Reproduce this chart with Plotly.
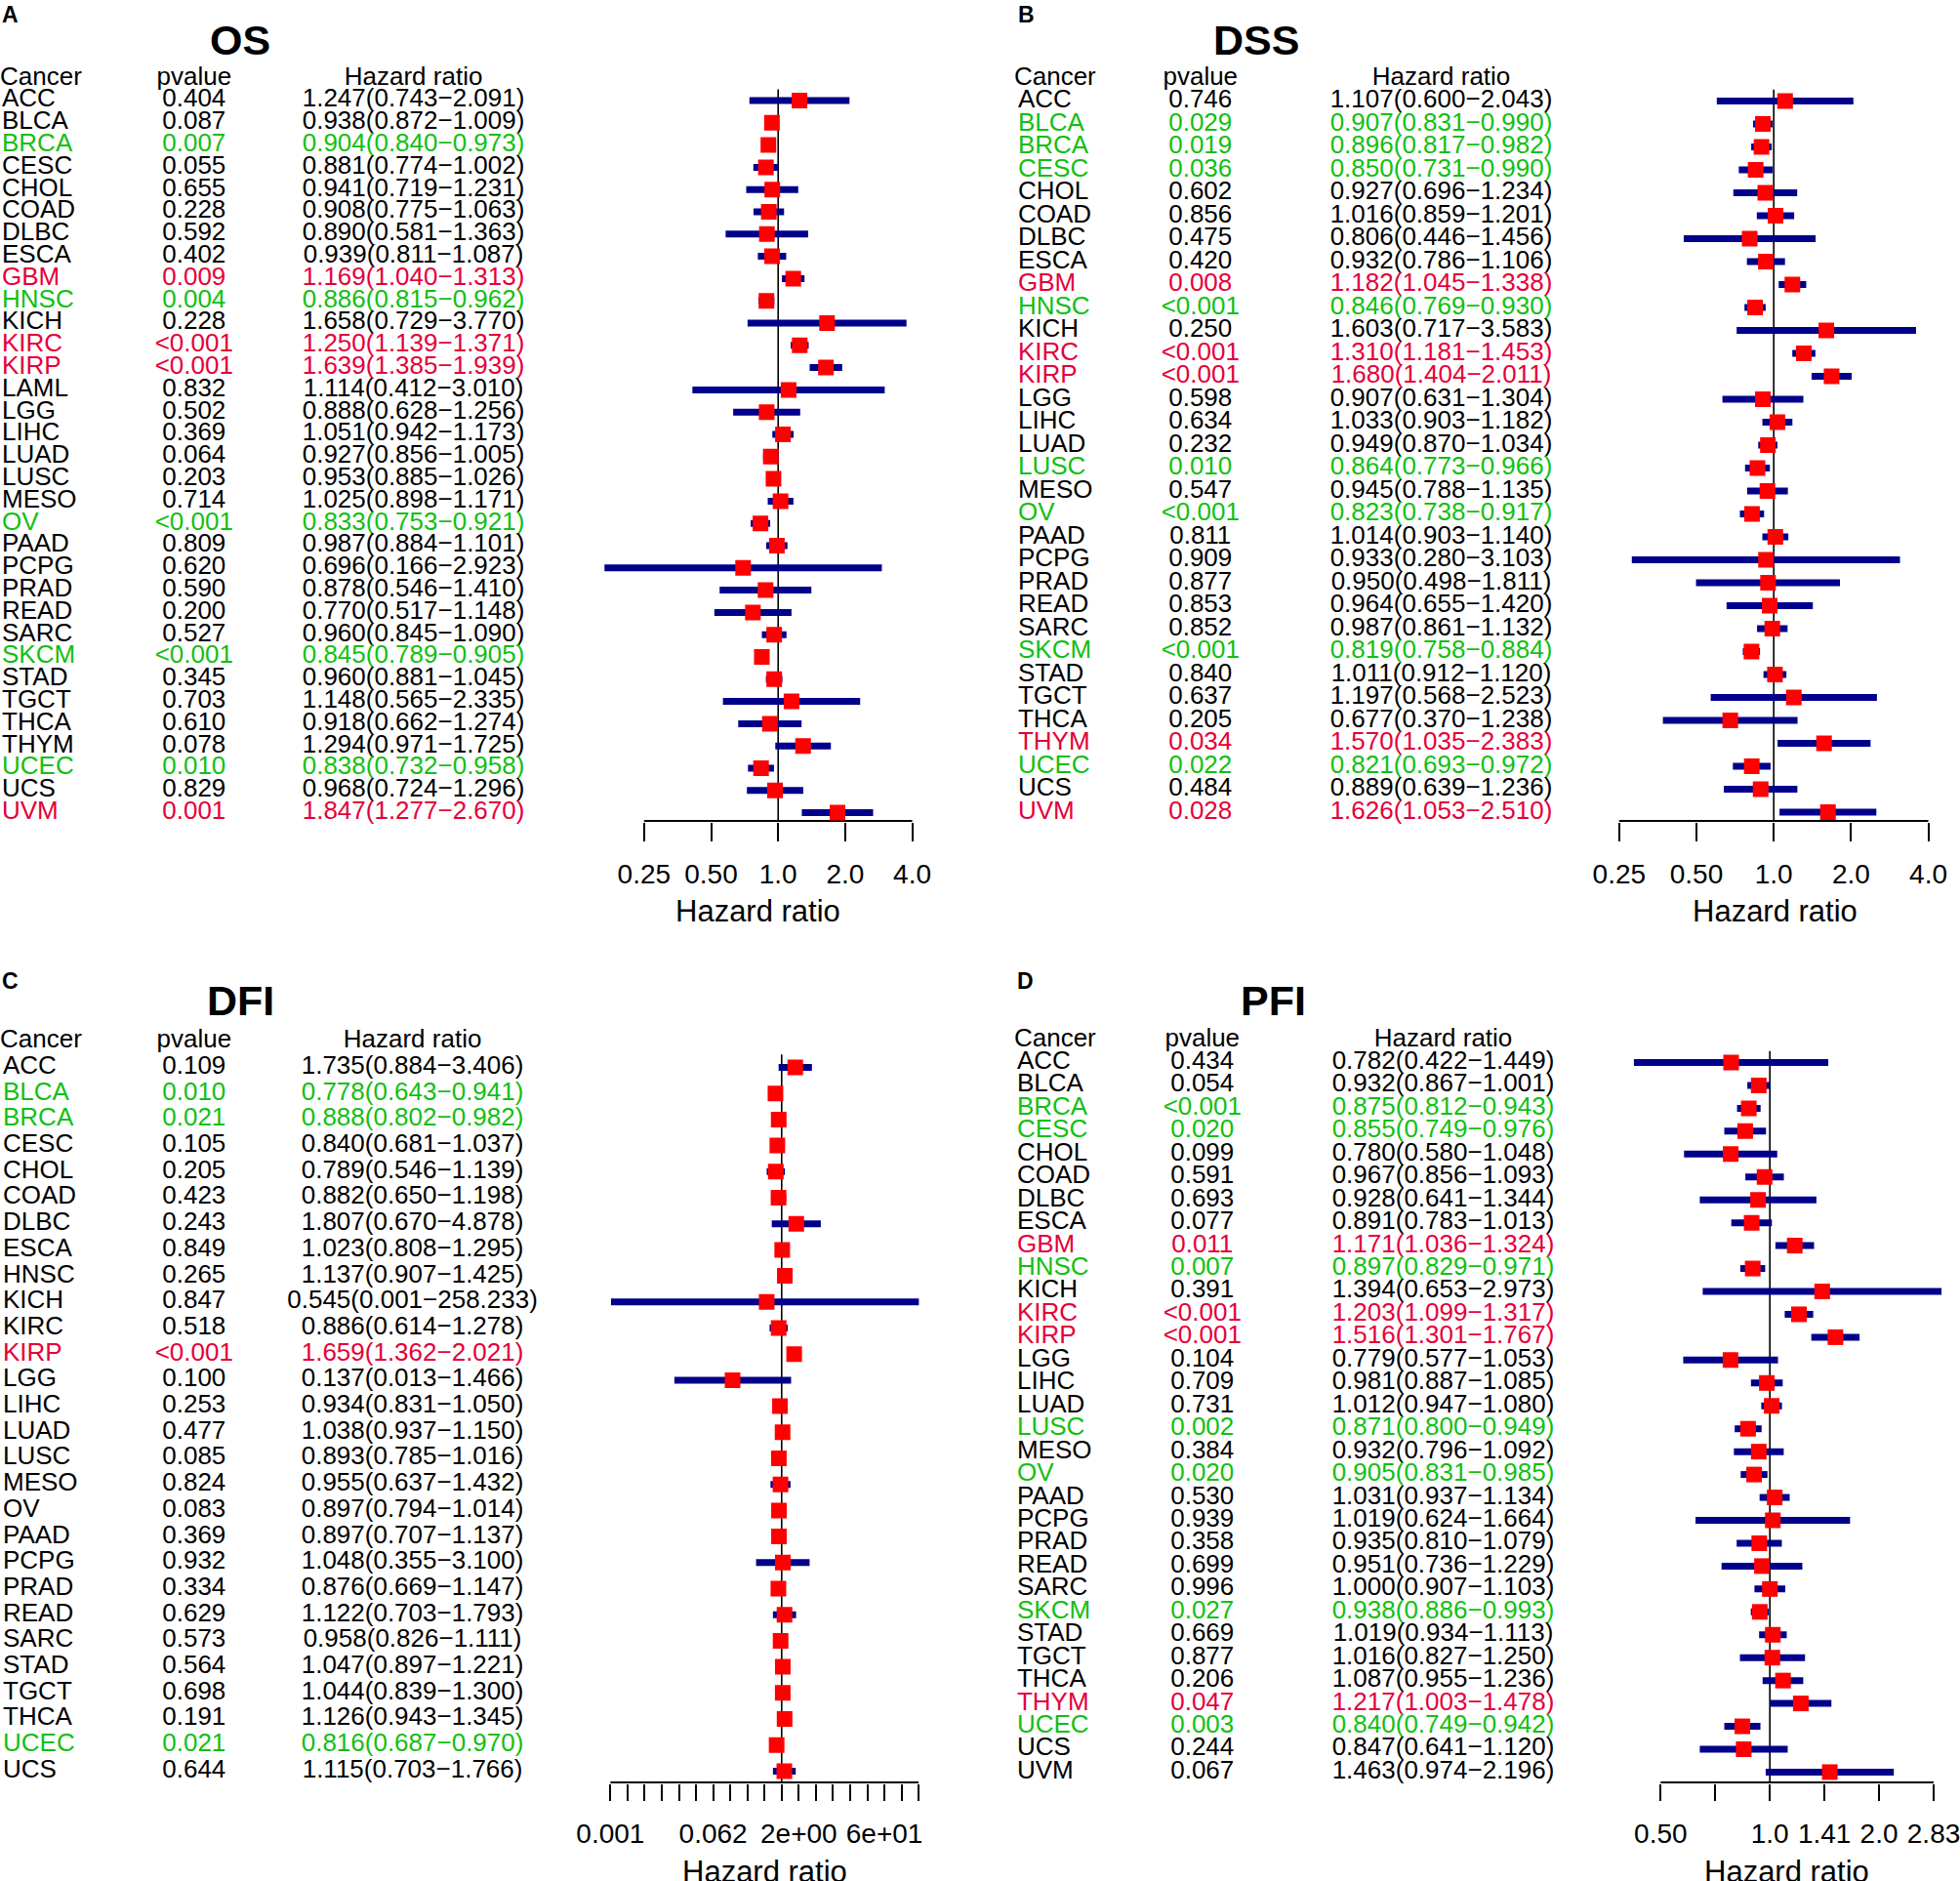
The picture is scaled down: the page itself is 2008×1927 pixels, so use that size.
import math
import plotly.graph_objects as go

W, H = 2008, 1927
FONT = "Liberation Sans, Arial, sans-serif"
RED_TXT = "#E4003A"
GREEN_TXT = "#12BF12"

# ---- OS ----
os_cancer = ["ACC", "BLCA", "BRCA", "CESC", "CHOL", "COAD", "DLBC", "ESCA", "GBM", "HNSC", "KICH",
             "KIRC", "KIRP", "LAML", "LGG", "LIHC", "LUAD", "LUSC", "MESO", "OV", "PAAD", "PCPG",
             "PRAD", "READ", "SARC", "SKCM", "STAD", "TGCT", "THCA", "THYM", "UCEC", "UCS", "UVM"]
os_pvalue = ["0.404", "0.087", "0.007", "0.055", "0.655", "0.228", "0.592", "0.402", "0.009", "0.004", "0.228",
             "<0.001", "<0.001", "0.832", "0.502", "0.369", "0.064", "0.203", "0.714", "<0.001", "0.809", "0.620",
             "0.590", "0.200", "0.527", "<0.001", "0.345", "0.703", "0.610", "0.078", "0.010", "0.829", "0.001"]
os_hr = [1.247, 0.938, 0.904, 0.881, 0.941, 0.908, 0.890, 0.939, 1.169, 0.886, 1.658,
         1.250, 1.639, 1.114, 0.888, 1.051, 0.927, 0.953, 1.025, 0.833, 0.987, 0.696,
         0.878, 0.770, 0.960, 0.845, 0.960, 1.148, 0.918, 1.294, 0.838, 0.968, 1.847]
os_lo = [0.743, 0.872, 0.840, 0.774, 0.719, 0.775, 0.581, 0.811, 1.040, 0.815, 0.729,
         1.139, 1.385, 0.412, 0.628, 0.942, 0.856, 0.885, 0.898, 0.753, 0.884, 0.166,
         0.546, 0.517, 0.845, 0.789, 0.881, 0.565, 0.662, 0.971, 0.732, 0.724, 1.277]
os_hi = [2.091, 1.009, 0.973, 1.002, 1.231, 1.063, 1.363, 1.087, 1.313, 0.962, 3.770,
         1.371, 1.939, 3.010, 1.256, 1.173, 1.005, 1.026, 1.171, 0.921, 1.101, 2.923,
         1.410, 1.148, 1.090, 0.905, 1.045, 2.335, 1.274, 1.725, 0.958, 1.296, 2.670]

# ---- DSS ----
dss_cancer = ["ACC", "BLCA", "BRCA", "CESC", "CHOL", "COAD", "DLBC", "ESCA", "GBM", "HNSC", "KICH",
              "KIRC", "KIRP", "LGG", "LIHC", "LUAD", "LUSC", "MESO", "OV", "PAAD", "PCPG", "PRAD",
              "READ", "SARC", "SKCM", "STAD", "TGCT", "THCA", "THYM", "UCEC", "UCS", "UVM"]
dss_pvalue = ["0.746", "0.029", "0.019", "0.036", "0.602", "0.856", "0.475", "0.420", "0.008", "<0.001", "0.250",
              "<0.001", "<0.001", "0.598", "0.634", "0.232", "0.010", "0.547", "<0.001", "0.811", "0.909", "0.877",
              "0.853", "0.852", "<0.001", "0.840", "0.637", "0.205", "0.034", "0.022", "0.484", "0.028"]
dss_hr = [1.107, 0.907, 0.896, 0.850, 0.927, 1.016, 0.806, 0.932, 1.182, 0.846, 1.603,
          1.310, 1.680, 0.907, 1.033, 0.949, 0.864, 0.945, 0.823, 1.014, 0.933, 0.950,
          0.964, 0.987, 0.819, 1.011, 1.197, 0.677, 1.570, 0.821, 0.889, 1.626]
dss_lo = [0.600, 0.831, 0.817, 0.731, 0.696, 0.859, 0.446, 0.786, 1.045, 0.769, 0.717,
          1.181, 1.404, 0.631, 0.903, 0.870, 0.773, 0.788, 0.738, 0.903, 0.280, 0.498,
          0.655, 0.861, 0.758, 0.912, 0.568, 0.370, 1.035, 0.693, 0.639, 1.053]
dss_hi = [2.043, 0.990, 0.982, 0.990, 1.234, 1.201, 1.456, 1.106, 1.338, 0.930, 3.583,
          1.453, 2.011, 1.304, 1.182, 1.034, 0.966, 1.135, 0.917, 1.140, 3.103, 1.811,
          1.420, 1.132, 0.884, 1.120, 2.523, 1.238, 2.383, 0.972, 1.236, 2.510]

# ---- DFI ----
dfi_cancer = ["ACC", "BLCA", "BRCA", "CESC", "CHOL", "COAD", "DLBC", "ESCA", "HNSC", "KICH", "KIRC",
              "KIRP", "LGG", "LIHC", "LUAD", "LUSC", "MESO", "OV", "PAAD", "PCPG", "PRAD", "READ",
              "SARC", "STAD", "TGCT", "THCA", "UCEC", "UCS"]
dfi_pvalue = ["0.109", "0.010", "0.021", "0.105", "0.205", "0.423", "0.243", "0.849", "0.265", "0.847", "0.518",
              "<0.001", "0.100", "0.253", "0.477", "0.085", "0.824", "0.083", "0.369", "0.932", "0.334", "0.629",
              "0.573", "0.564", "0.698", "0.191", "0.021", "0.644"]
dfi_hr = [1.735, 0.778, 0.888, 0.840, 0.789, 0.882, 1.807, 1.023, 1.137, 0.545, 0.886,
          1.659, 0.137, 0.934, 1.038, 0.893, 0.955, 0.897, 0.897, 1.048, 0.876, 1.122,
          0.958, 1.047, 1.044, 1.126, 0.816, 1.115]
dfi_lo = [0.884, 0.643, 0.802, 0.681, 0.546, 0.650, 0.670, 0.808, 0.907, 0.001, 0.614,
          1.362, 0.013, 0.831, 0.937, 0.785, 0.637, 0.794, 0.707, 0.355, 0.669, 0.703,
          0.826, 0.897, 0.839, 0.943, 0.687, 0.703]
dfi_hi = [3.406, 0.941, 0.982, 1.037, 1.139, 1.198, 4.878, 1.295, 1.425, 258.233, 1.278,
          2.021, 1.466, 1.050, 1.150, 1.016, 1.432, 1.014, 1.137, 3.100, 1.147, 1.793,
          1.111, 1.221, 1.300, 1.345, 0.970, 1.766]

# ---- PFI ----
pfi_cancer = ["ACC", "BLCA", "BRCA", "CESC", "CHOL", "COAD", "DLBC", "ESCA", "GBM", "HNSC", "KICH",
              "KIRC", "KIRP", "LGG", "LIHC", "LUAD", "LUSC", "MESO", "OV", "PAAD", "PCPG", "PRAD",
              "READ", "SARC", "SKCM", "STAD", "TGCT", "THCA", "THYM", "UCEC", "UCS", "UVM"]
pfi_pvalue = ["0.434", "0.054", "<0.001", "0.020", "0.099", "0.591", "0.693", "0.077", "0.011", "0.007", "0.391",
              "<0.001", "<0.001", "0.104", "0.709", "0.731", "0.002", "0.384", "0.020", "0.530", "0.939", "0.358",
              "0.699", "0.996", "0.027", "0.669", "0.877", "0.206", "0.047", "0.003", "0.244", "0.067"]
pfi_hr = [0.782, 0.932, 0.875, 0.855, 0.780, 0.967, 0.928, 0.891, 1.171, 0.897, 1.394,
          1.203, 1.516, 0.779, 0.981, 1.012, 0.871, 0.932, 0.905, 1.031, 1.019, 0.935,
          0.951, 1.000, 0.938, 1.019, 1.016, 1.087, 1.217, 0.840, 0.847, 1.463]
pfi_lo = [0.422, 0.867, 0.812, 0.749, 0.580, 0.856, 0.641, 0.783, 1.036, 0.829, 0.653,
          1.099, 1.301, 0.577, 0.887, 0.947, 0.800, 0.796, 0.831, 0.937, 0.624, 0.810,
          0.736, 0.907, 0.886, 0.934, 0.827, 0.955, 1.003, 0.749, 0.641, 0.974]
pfi_hi = [1.449, 1.001, 0.943, 0.976, 1.048, 1.093, 1.344, 1.013, 1.324, 0.971, 2.973,
          1.317, 1.767, 1.053, 1.085, 1.080, 0.949, 1.092, 0.985, 1.134, 1.664, 1.079,
          1.229, 1.103, 0.993, 1.113, 1.250, 1.236, 1.478, 0.942, 1.120, 2.196]

# axis ticks
ticks_ab = [0.25, 0.5, 1, 2, 4]
labels_ab = ["0.25", "0.50", "1.0", "2.0", "4.0"]
ticks_c = [2.0 ** k for k in range(-10, 9)]
labels_c = {-10: "0.001", -4: "0.062", 1: "2e+00", 6: "6e+01"}
labels_c = [labels_c.get(k, "") for k in range(-10, 9)]
ticks_d = [0.5 * 2 ** (k / 2) for k in range(6)]
labels_d = ["0.50", "", "1.0", "1.41", "2.0", "2.83"]

panels = [
    dict(letter="A", title="OS", names=os_cancer, p=os_pvalue, hr=os_hr, lo=os_lo, hi=os_hi,
         left=0, letter_xy=(0, 15), title_xy=(246, 41), row0=103, pitch=22.8,
         name_x=2, head_x=0, p_x=199, hr_x=424, text_right=560,
         f_left=560, f_right=1000, ref_px=798, ppd=68.75, axis_px=841, ticklen=19,
         tickvals=ticks_ab, ticktext=labels_ab, xt_xy=(777, 933)),
    dict(letter="B", title="DSS", names=dss_cancer, p=dss_pvalue, hr=dss_hr, lo=dss_lo, hi=dss_hi,
         left=1030, letter_xy=(1042, 15), title_xy=(1288, 41), row0=103.5, pitch=23.5,
         name_x=1044, head_x=1040, p_x=1231, hr_x=1478, text_right=1620,
         f_left=1620, f_right=2008, ref_px=1819, ppd=79.25, axis_px=841, ticklen=19,
         tickvals=ticks_ab, ticktext=labels_ab, xt_xy=(1820, 933)),
    dict(letter="C", title="DFI", names=dfi_cancer, p=dfi_pvalue, hr=dfi_hr, lo=dfi_lo, hi=dfi_hi,
         left=0, letter_xy=(0, 1005), title_xy=(247, 1025), row0=1093.5, pitch=26.7,
         name_x=3, head_x=0, p_x=199, hr_x=423, text_right=560,
         f_left=560, f_right=1000, ref_px=801.6, ppd=17.56, axis_px=1826, ticklen=17,
         tickvals=ticks_c, ticktext=labels_c, xt_xy=(784, 1917)),
    dict(letter="D", title="PFI", names=pfi_cancer, p=pfi_pvalue, hr=pfi_hr, lo=pfi_lo, hi=pfi_hi,
         left=1030, letter_xy=(1041, 1005), title_xy=(1306, 1025), row0=1088.5, pitch=23.45,
         name_x=1043, head_x=1040, p_x=1233, hr_x=1480, text_right=1620,
         f_left=1620, f_right=2008, ref_px=1815, ppd=112, axis_px=1826, ticklen=17,
         tickvals=ticks_d, ticktext=labels_d, xt_xy=(1832, 1917)),
]


def pnum(s):
    return 0.0005 if s.startswith("<") else float(s)


def colour(p, hr):
    if pnum(p) < 0.05:
        return RED_TXT if hr > 1 else GREEN_TXT
    return "black"


fig = go.Figure()
layout = dict(width=W, height=H, margin=dict(l=0, r=0, t=0, b=0, pad=0),
              paper_bgcolor="white", plot_bgcolor="rgba(0,0,0,0)", showlegend=False,
              font=dict(family=FONT, color="black"), hovermode=False)
annotations = []

for k, pan in enumerate(panels):
    nf, nt, ny = 2 * k + 1, 2 * k + 2, k + 1
    xf = "x" if nf == 1 else f"x{nf}"
    xt = f"x{nt}"
    yk = "y" if ny == 1 else f"y{ny}"
    n = len(pan["names"])
    rows = list(range(n))
    pitch, row0 = pan["pitch"], pan["row0"]
    top_px = row0 - 2 * pitch
    bot_px = pan["axis_px"] + 1
    r_top = (top_px - row0) / pitch
    r_bot = (bot_px - row0) / pitch
    axis_row = (pan["axis_px"] - row0) / pitch
    cols = [colour(p, h) for p, h in zip(pan["p"], pan["hr"])]
    l2 = math.log10(2)

    layout["yaxis" if ny == 1 else f"yaxis{ny}"] = dict(
        domain=[1 - bot_px / H, 1 - top_px / H], range=[r_bot, r_top], visible=False,
        anchor=xf)
    layout["xaxis" if nf == 1 else f"xaxis{nf}"] = dict(
        type="log", domain=[pan["f_left"] / W, pan["f_right"] / W],
        range=[(pan["f_left"] - pan["ref_px"]) / pan["ppd"] * l2,
               (pan["f_right"] - pan["ref_px"]) / pan["ppd"] * l2],
        anchor=yk, showgrid=False, zeroline=False, showline=False,
        ticks="outside", ticklen=pan["ticklen"], tickwidth=2, tickcolor="black",
        tickmode="array", tickvals=pan["tickvals"], ticktext=pan["ticktext"],
        tickfont=dict(size=28, color="black"), ticklabelstandoff=9,
        ticklabeloverflow="allow")
    layout[f"xaxis{nt}"] = dict(
        domain=[pan["left"] / W, pan["text_right"] / W], range=[pan["left"], pan["text_right"]],
        anchor=yk, visible=False)

    # reference line and axis line
    fig.add_trace(go.Scatter(x=[1, 1], y=[-0.5, axis_row], mode="lines",
                             line=dict(color="black", width=1.6), xaxis=xf, yaxis=yk))
    fig.add_trace(go.Scatter(x=[pan["tickvals"][0], pan["tickvals"][-1]], y=[axis_row, axis_row],
                             mode="lines", line=dict(color="black", width=2), xaxis=xf, yaxis=yk))
    # CI and HR
    fig.add_trace(go.Scatter(
        x=pan["hr"], y=rows, mode="markers", xaxis=xf, yaxis=yk,
        marker=dict(symbol="square", size=16, color="#FF0000", line=dict(width=0)),
        error_x=dict(type="data", symmetric=False,
                     array=[h - m for h, m in zip(pan["hi"], pan["hr"])],
                     arrayminus=[m - l for m, l in zip(pan["hr"], pan["lo"])],
                     thickness=7, width=0, color="#00008B")))

    # table text
    fig.add_trace(go.Scatter(
        x=[pan["head_x"], pan["p_x"], pan["hr_x"]], y=[-1, -1, -1], mode="text",
        text=["Cancer", "pvalue", "Hazard ratio"],
        textposition=["middle right", "middle center", "middle center"],
        textfont=dict(size=26, color="black"), xaxis=xt, yaxis=yk, cliponaxis=False))
    fig.add_trace(go.Scatter(
        x=[pan["name_x"]] * n, y=rows, mode="text", text=pan["names"], textposition="middle right",
        textfont=dict(size=26, color=cols), xaxis=xt, yaxis=yk, cliponaxis=False))
    fig.add_trace(go.Scatter(
        x=[pan["p_x"]] * n, y=rows, mode="text", text=pan["p"], textposition="middle center",
        textfont=dict(size=26, color=cols), xaxis=xt, yaxis=yk, cliponaxis=False))
    hr_txt = [f"{h:.3f}({l:.3f}\u2212{u:.3f})" for h, l, u in zip(pan["hr"], pan["lo"], pan["hi"])]
    fig.add_trace(go.Scatter(
        x=[pan["hr_x"]] * n, y=rows, mode="text", text=hr_txt, textposition="middle center",
        textfont=dict(size=26, color=cols), xaxis=xt, yaxis=yk, cliponaxis=False))

    lx, ly = pan["letter_xy"]
    annotations.append(dict(text=f"<b>{pan['letter']}</b>", x=lx / W, y=1 - ly / H,
                            xref="paper", yref="paper", xanchor="left", yanchor="middle",
                            showarrow=False, font=dict(size=23, color="black")))
    tx, ty = pan["title_xy"]
    annotations.append(dict(text=f"<b>{pan['title']}</b>", x=tx / W, y=1 - ty / H,
                            xref="paper", yref="paper", xanchor="center", yanchor="middle",
                            showarrow=False, font=dict(size=43, color="black")))
    ax, ay = pan["xt_xy"]
    annotations.append(dict(text="Hazard ratio", x=ax / W, y=1 - ay / H,
                            xref="paper", yref="paper", xanchor="center", yanchor="middle",
                            showarrow=False, font=dict(size=31, color="black")))

layout["annotations"] = annotations
fig.update_layout(**layout)
fig.write_html("out.html", config={"displayModeBar": False},
               post_script="document.body.style.margin='0px';")
